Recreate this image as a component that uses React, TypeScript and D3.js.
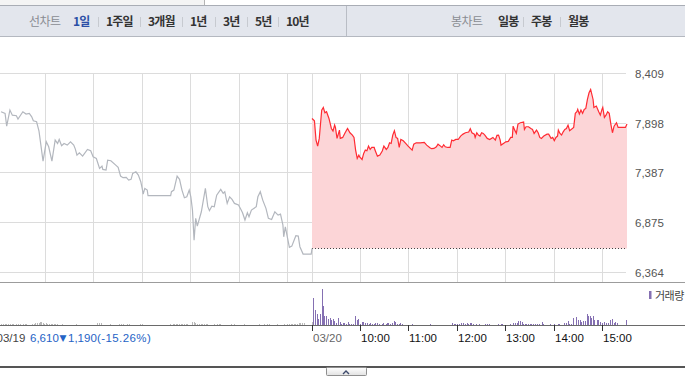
import React from "react";
import * as d3 from "d3";

const W = 685;
const H = 386;

// 03/19 (prev session), minutes from 09:00 and price
const prevMinutes = [5,10,12,16,19,24,26,32,36,40,43,45,49,52,57,61,64,68,72,75,77,80,83,87,91,95,97,99,102,106,112,116,119,123,127,130,131,135,137,141,147,150,153,156,160,163,166,168,172,175,178,180,181,183,186,187,215,216,219,223,226,229,232,235,238,240,242,244,246,248,253,258,261,263,266,269,272,277,280,282,285,288,291,294,299,302,304,307,310,312,315,321,323,326,329,333,336,340,344,348,351,354,355,357,359,362,365,370,373,375,379,389,390];
const prevPrices = [8015,7998,7867,8032,7980,7974,7939,8015,7991,7998,7963,7922,7912,7816,7508,7706,7655,7508,7724,7689,7730,7665,7689,7672,7706,7672,7631,7569,7593,7559,7628,7614,7552,7535,7432,7456,7422,7415,7518,7511,7467,7443,7354,7337,7340,7313,7320,7381,7398,7364,7296,7217,7169,7227,7210,7152,7152,7193,7210,7354,7320,7210,7131,7141,7210,7141,7004,6696,6919,6840,6987,7227,7039,6998,7045,7039,7158,7217,7176,7193,7073,7141,7114,7073,7056,7011,6977,6902,6977,6936,7004,7039,7141,7193,7107,7022,6919,6908,6987,6953,6963,6850,6730,6833,6747,6621,6634,6741,6737,6628,6552,6552,6610];

// 03/20 (today)
const todayMinutes = [0,3,5,7,9,12,14,16,18,21,24,26,28,29,31,34,35,38,41,44,47,50,52,54,56,58,59,62,64,66,68,70,72,74,77,78,81,84,87,89,92,94,96,98,100,102,104,106,108,110,113,116,119,124,126,129,134,139,142,146,148,151,154,156,158,161,163,165,168,171,173,175,178,181,184,187,190,194,196,198,201,202,204,206,208,210,212,214,217,220,224,227,229,231,233,234,237,240,243,246,248,249,251,253,255,258,262,263,265,268,271,273,275,278,280,282,284,287,291,293,296,298,300,302,304,305,307,309,311,313,315,317,319,324,326,328,329,331,333,335,337,339,341,343,345,348,349,352,355,357,359,360,362,364,366,368,370,372,374,377,379,381,385,388,390];
const todayPrices = [7946,7922,7724,7662,7741,8032,8059,8004,8015,7946,7843,7816,7878,7854,7741,7826,7741,7751,7799,7843,7799,7775,7751,7621,7535,7569,7552,7525,7587,7621,7614,7662,7628,7648,7648,7621,7559,7569,7611,7662,7628,7648,7696,7689,7775,7820,7751,7741,7648,7730,7717,7689,7662,7621,7682,7696,7696,7700,7672,7645,7635,7638,7655,7682,7669,7648,7676,7655,7648,7648,7724,7717,7730,7730,7765,7785,7799,7806,7840,7799,7785,7751,7799,7775,7765,7799,7792,7775,7741,7730,7751,7724,7772,7775,7724,7672,7689,7706,7710,7751,7751,7867,7826,7792,7888,7902,7909,7833,7861,7861,7843,7833,7792,7826,7799,7751,7741,7765,7785,7785,7741,7751,7717,7751,7765,7826,7792,7775,7809,7833,7843,7878,7820,7854,7998,8015,8039,7991,8032,7998,8039,8049,8141,8210,8244,8141,8059,8073,8015,7980,8039,8059,7957,7980,8015,7998,7888,7799,7867,7902,7854,7854,7854,7854,7888];

// volume (arbitrary units)
const prevVolMinutes = [6,8,10,12,14,17,19,21,24,26,29,33,35,37,44,46,48,50,52,54,55,57,59,61,63,65,67,69,71,73,75,81,98,125,127,129,141,152,154,156,162,164,178,180,215,218,220,222,224,226,228,230,232,234,236,242,244,246,248,251,253,255,257,259,261,269,273,275,277,290,294,306,325,331,335,337,347,356,360,362,364,366,368,370,372,374,376,378,381,390];
const prevVolumes = [13,10,13,10,10,13,10,10,13,10,10,13,10,10,13,10,20,20,20,30,30,20,13,20,13,13,10,10,13,10,10,10,13,20,20,20,10,13,13,10,10,13,10,10,10,10,13,10,10,13,13,10,13,10,13,27,27,20,13,10,13,13,10,10,13,13,13,10,13,10,13,10,10,13,13,10,10,13,13,13,13,13,13,13,13,20,20,20,20,33];
const todayVolMinutes = [2,4,7,8,10,13,14,16,18,20,23,24,26,28,30,33,35,37,39,40,43,45,47,49,51,54,56,58,60,62,64,66,69,71,73,75,77,79,81,84,87,89,92,93,95,97,100,102,104,106,108,110,112,124,147,174,176,178,180,183,185,187,190,192,194,196,198,200,204,207,215,217,220,231,234,236,246,249,252,254,256,258,260,262,264,266,268,270,272,274,277,279,282,285,287,295,300,305,307,313,315,317,319,321,324,327,330,332,334,336,338,341,342,345,346,348,350,353,355,357,360,362,364,367,370,372,374,376,378,389];
const todayVolumes = [273,153,113,63,113,363,187,87,87,63,73,47,57,40,20,73,27,13,23,23,13,33,13,13,13,93,53,63,13,33,33,20,20,13,23,13,13,23,23,13,13,23,13,23,20,13,20,43,33,13,13,20,13,13,13,23,13,13,13,13,20,23,13,20,13,23,23,13,13,13,13,13,13,13,13,13,13,23,23,20,40,43,33,13,13,13,13,13,13,13,13,13,13,33,13,13,13,13,13,20,23,43,13,13,73,83,53,53,33,43,43,113,93,93,67,93,53,53,53,33,20,33,20,23,53,63,23,33,23,53];

const priceTicks = [6364, 6875, 7387, 7898, 8409];
const prevClose = 6610;
const changeAbs = 1190;
const changePct = -15.26;
const prevDateLabel = "03/19";
const todayTickMinutes = [0, 60, 120, 180, 240, 300, 360];
const todayTickLabels = ["03/20", "10:00", "11:00", "12:00", "13:00", "14:00", "15:00"];
const prevGridMinutes = [60, 120, 180, 240, 300, 360];
const SESSION = 390;

const lineChartTitle = "선차트";
const periodLabels = ["1일", "1주일", "3개월", "1년", "3년", "5년", "10년"];
const candleChartTitle = "봉차트";
const candleLabels = ["일봉", "주봉", "월봉"];
const volumeLegend = "거래량";

// toolbar layout
const periodX = [73, 106, 148, 190, 223, 255, 286];
const candleX = [498, 531, 568];

const fmt = d3.format(",");
const crisp = (v: number) => Math.floor(v) + 0.5;
const AXIS_FONT = "'Liberation Sans', Arial, sans-serif";
const KR_FONT = "'Noto Sans CJK KR', 'Noto Sans', sans-serif";

export default function App() {
  const x = d3.scaleLinear().domain([0, SESSION * 2]).range([-3, 627]);
  const y = d3.scaleLinear().domain([6364, 8409]).range([272.4, 73.4]);
  const yv = d3.scaleLinear().domain([0, 363]).range([325, 289]);

  const prevData = prevMinutes.map((m, i) => ({ m, p: prevPrices[i] }));
  const todayData = todayMinutes.map((m, i) => ({ m: m + SESSION, p: todayPrices[i] }));

  const line = d3.line<{ m: number; p: number }>().x((d) => x(d.m)).y((d) => y(d.p));
  const area = d3
    .area<{ m: number; p: number }>()
    .x((d) => x(d.m))
    .y0(y(prevClose))
    .y1((d) => y(d.p));

  const gridX = [
    ...prevGridMinutes,
    ...todayTickMinutes.map((m) => m + SESSION),
  ].map((m) => crisp(x(m)));

  const baseY = crisp(y(prevClose));
  const volBase = 325;

  const bar = (m: number, v: number, color: string, key: string) => {
    const h = Math.max(1, Math.round(volBase - yv(v)));
    return <rect key={key} x={Math.floor(x(m))} y={volBase - h} width={1} height={h} fill={color} />;
  };

  return (
    <div style={{ position: "fixed", left: 0, top: 0 }}>
      <svg width={W} height={H} style={{ display: "block", background: "#fff" }}>
        <defs>
          <linearGradient id="btn" x1="0" y1="0" x2="0" y2="1">
            <stop offset="0" stopColor="#ffffff" />
            <stop offset="1" stopColor="#e2e2e2" />
          </linearGradient>
        </defs>

        {/* toolbar */}
        <rect x={0} y={0} width={204} height={5} fill="#f4f4f4" />
        <line x1={204.5} x2={204.5} y1={0} y2={5} stroke="#b4b4b4" />
        <rect x={0} y={5} width={W} height={31} fill="#e3e6ed" />
        <line x1={0} x2={W} y1={5.5} y2={5.5} stroke="#a9adb5" />
        <line x1={0} x2={W} y1={36.5} y2={36.5} stroke="#b4b8c0" />
        <line x1={346.5} x2={346.5} y1={6} y2={36} stroke="#b9bdc5" />
        <g fontFamily={KR_FONT} fontSize={12}>
          <text x={29} y={26} fill="#8a8d93" letterSpacing={-0.6}>{lineChartTitle}</text>
          {periodLabels.map((t, i) => (
            <g key={t}>
              {i > 0 && (
                <line x1={periodX[i] - 7.5} x2={periodX[i] - 7.5} y1={17} y2={27} stroke="#c7cad0" />
              )}
              <text x={periodX[i]} y={26} fontWeight="bold" letterSpacing={-0.8}
                fill={i === 0 ? "#2b4fa6" : "#333"}>{t}</text>
            </g>
          ))}
          <text x={451} y={26} fill="#8a8d93" letterSpacing={-0.6}>{candleChartTitle}</text>
          {candleLabels.map((t, i) => (
            <g key={t}>
              {i > 0 && (
                <line x1={candleX[i] - 7.5} x2={candleX[i] - 7.5} y1={17} y2={27} stroke="#c7cad0" />
              )}
              <text x={candleX[i]} y={26} fontWeight="bold" letterSpacing={-0.8} fill="#333">{t}</text>
            </g>
          ))}
        </g>

        {/* grid */}
        <g stroke="#dcdcdc" strokeWidth={1}>
          {priceTicks.map((t) => (
            <line key={t} x1={0} x2={626} y1={crisp(y(t))} y2={crisp(y(t))} />
          ))}
          {gridX.map((gx, i) => (
            <line key={i} x1={gx} x2={gx} y1={73} y2={282} />
          ))}
        </g>

        {/* price */}
        <path d={area(todayData) || ""} fill="#fcd5d7" />
        <line x1={x(SESSION)} x2={626} y1={baseY} y2={baseY} stroke="#444" strokeDasharray="1,2" />
        <path d={line(prevData) || ""} fill="none" stroke="#b3b7be" strokeWidth={1.2} />
        <path d={line(todayData) || ""} fill="none" stroke="#ff2b33" strokeWidth={1.2} />

        <g fontFamily={AXIS_FONT} fontSize={11.5} fill="#555">
          {priceTicks.map((t) => (
            <text key={t} x={635} y={crisp(y(t)) + 4}>{fmt(t)}</text>
          ))}
        </g>

        {/* volume pane */}
        <line x1={0} x2={W} y1={282.5} y2={282.5} stroke="#9c9c9c" />
        {prevVolMinutes.map((m, i) => bar(m, prevVolumes[i], "#b9b9b9", "p" + i))}
        {todayVolMinutes.map((m, i) => bar(m + SESSION, todayVolumes[i], "#8570b2", "t" + i))}
        <line x1={0} x2={W} y1={volBase + 0.5} y2={volBase + 0.5} stroke="#6a6a6a" />
        <rect x={649} y={291} width={2.5} height={8} fill="#8570b2" />
        <text x={655} y={299.5} fontFamily={KR_FONT} fontSize={11} fill="#444" letterSpacing={-0.5}>
          {volumeLegend}
        </text>

        {/* time axis */}
        <g fontFamily={AXIS_FONT} fontSize={11.5}>
          {todayTickMinutes.map((m, i) => {
            const tx = crisp(x(m + SESSION));
            return (
              <g key={m}>
                <line x1={tx} x2={tx} y1={volBase} y2={volBase + 6} stroke="#333" />
                <text x={tx + 0.5} y={342} fill={i === 0 ? "#666" : "#111"}>{todayTickLabels[i]}</text>
              </g>
            );
          })}
          <text x={-3.5} y={342} fill="#444">{prevDateLabel}</text>
          <text x={30} y={342} fill="#2563c6">{fmt(prevClose)}</text>
          <text x={59.5} y={341} fill="#2563c6" fontSize={9} fontFamily="'DejaVu Sans', sans-serif">▼</text>
          <text x={68} y={342} fill="#2563c6">{fmt(changeAbs)}</text>
          <text x={97} y={342} fill="#2563c6" letterSpacing={0.4}>({changePct.toFixed(2)}%)</text>
        </g>

        {/* bottom bar + toggle button */}
        <rect x={0} y={366} width={W} height={2} fill="#555" />
        <rect x={326.5} y={367.5} width={40} height={8} fill="url(#btn)" stroke="#8e8e8e" rx={1} />
        <path d="M343,374 L346,371 L349,374" fill="none" stroke="#3d4a6b" strokeWidth={1.4} />
      </svg>
    </div>
  );
}
